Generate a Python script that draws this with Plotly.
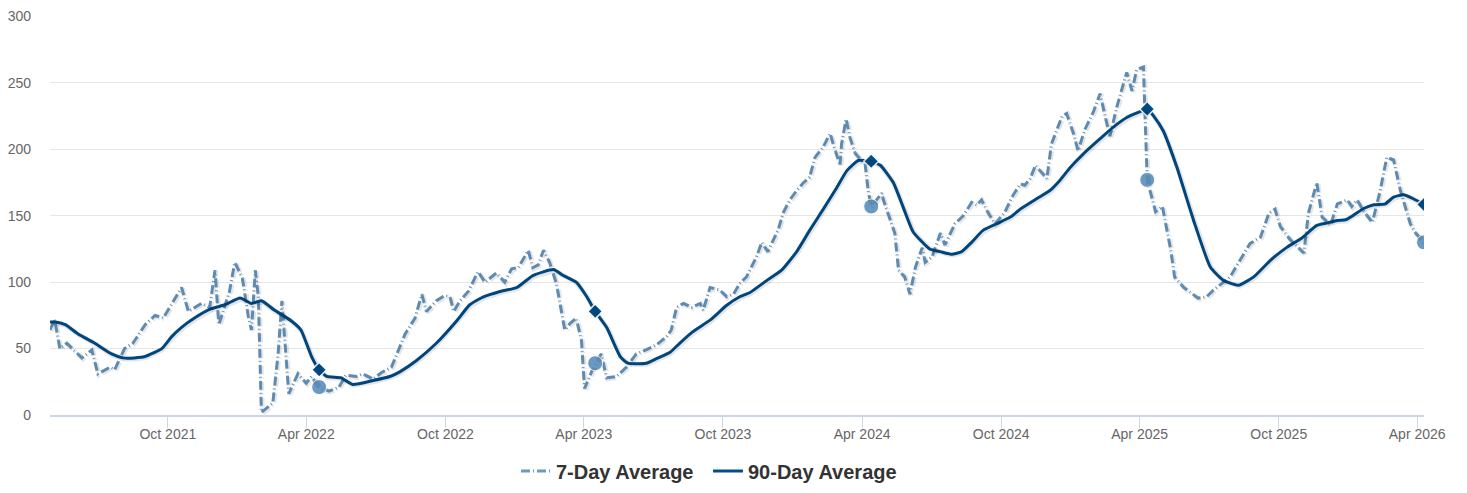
import pandas as pd
import plotly.graph_objects as go

# ---------------- data ----------------
d7_dates = [
    "2021-04-29", "2021-05-05", "2021-05-12", "2021-05-21", "2021-06-10", "2021-06-23", "2021-07-01",
    "2021-07-17", "2021-07-23", "2021-08-05", "2021-08-16", "2021-09-01", "2021-09-14", "2021-09-25",
    "2021-10-19", "2021-10-28", "2021-11-14", "2021-11-25", "2021-12-02", "2021-12-07", "2021-12-21",
    "2021-12-28", "2022-01-07", "2022-01-15", "2022-01-19", "2022-01-24", "2022-01-28", "2022-02-01",
    "2022-02-16", "2022-02-23", "2022-02-28", "2022-03-05", "2022-03-09", "2022-03-21", "2022-04-01",
    "2022-04-08", "2022-04-18", "2022-05-01", "2022-05-14", "2022-05-23", "2022-06-06", "2022-06-14",
    "2022-06-28", "2022-07-09", "2022-07-22", "2022-08-09", "2022-08-22", "2022-08-31", "2022-09-06",
    "2022-09-19", "2022-09-30", "2022-10-07", "2022-10-12", "2022-10-20", "2022-10-31", "2022-11-13",
    "2022-11-22", "2022-12-07", "2022-12-18", "2022-12-27", "2023-01-05", "2023-01-18", "2023-01-24",
    "2023-01-31", "2023-02-07", "2023-02-15", "2023-02-24", "2023-03-07", "2023-03-14", "2023-03-22",
    "2023-03-29", "2023-04-02", "2023-04-16", "2023-04-24", "2023-05-01", "2023-05-14", "2023-05-27",
    "2023-06-09", "2023-06-22", "2023-07-06", "2023-07-19", "2023-07-25", "2023-08-01", "2023-08-10",
    "2023-08-21", "2023-09-01", "2023-09-05", "2023-09-14", "2023-09-27", "2023-10-06", "2023-10-15",
    "2023-10-23", "2023-11-01", "2023-11-14", "2023-11-21", "2023-11-29", "2023-12-13", "2023-12-19",
    "2023-12-28", "2024-01-06", "2024-01-15", "2024-01-23", "2024-01-30", "2024-02-10", "2024-02-19",
    "2024-02-23", "2024-03-03", "2024-03-05", "2024-03-11", "2024-03-16", "2024-03-23", "2024-03-29",
    "2024-04-05", "2024-04-09", "2024-04-13", "2024-04-27", "2024-04-29", "2024-05-08", "2024-05-14",
    "2024-05-19", "2024-05-27", "2024-06-03", "2024-06-10", "2024-06-19", "2024-06-23", "2024-07-02",
    "2024-07-13", "2024-07-19", "2024-08-01", "2024-08-12", "2024-08-23", "2024-08-30", "2024-09-05",
    "2024-09-14", "2024-09-23", "2024-10-06", "2024-10-15", "2024-10-26", "2024-11-01", "2024-11-08",
    "2024-11-15", "2024-11-21", "2024-11-30", "2024-12-06", "2024-12-11", "2024-12-20", "2024-12-26",
    "2025-01-04", "2025-01-10", "2025-01-19", "2025-01-30", "2025-02-08", "2025-02-15", "2025-02-21",
    "2025-03-02", "2025-03-15", "2025-03-22", "2025-03-28", "2025-04-06", "2025-04-11", "2025-04-22",
    "2025-05-01", "2025-05-12", "2025-05-17", "2025-05-29", "2025-06-17", "2025-06-28", "2025-07-07",
    "2025-07-29", "2025-08-11", "2025-08-24", "2025-09-07", "2025-09-13", "2025-09-18", "2025-09-26",
    "2025-10-03", "2025-10-16", "2025-11-03", "2025-11-09", "2025-11-20", "2025-11-27", "2025-12-08",
    "2025-12-17", "2025-12-30", "2026-01-05", "2026-01-12", "2026-01-20", "2026-02-01", "2026-02-11",
    "2026-02-20", "2026-03-01", "2026-03-10", "2026-03-23", "2026-03-30", "2026-04-10",
]
d7_values = [
    64, 72, 50, 54, 43, 49, 31,
    36, 34, 50, 54, 68, 75, 73,
    96, 78, 84, 81, 109, 68, 93,
    115, 103, 73, 64, 109, 89, 2,
    9, 46, 86, 49, 16, 31, 24,
    29, 21, 18, 21, 30, 29, 31,
    27, 32, 36, 61, 73, 91, 78,
    86, 90, 89, 78, 86, 93, 108,
    100, 107, 100, 110, 111, 124, 111,
    113, 124, 115, 99, 64, 69, 73,
    56, 20, 39, 46, 28, 29, 36,
    46, 49, 53, 59, 64, 81, 84,
    81, 84, 79, 96, 94, 89, 91,
    99, 104, 119, 130, 123, 140, 152,
    162, 169, 175, 179, 194, 202, 212,
    204, 188, 204, 223, 209, 197, 193,
    189, 169, 157, 167, 162, 147, 137,
    109, 104, 91, 111, 126, 115, 119,
    137, 128, 144, 150, 160, 158, 162,
    152, 144, 153, 164, 174, 173, 178,
    188, 184, 178, 204, 212, 225, 227,
    212, 199, 215, 228, 242, 224, 210,
    232, 258, 244, 260, 262, 177, 153,
    157, 124, 104, 96, 88, 89, 94,
    104, 117, 129, 134, 143, 152, 155,
    142, 132, 122, 152, 175, 149, 143,
    159, 162, 157, 162, 154, 145, 168,
    194, 192, 169, 144, 137, 130,
]

d90_dates = [
    "2021-04-29", "2021-05-05", "2021-05-19", "2021-06-05", "2021-06-27", "2021-07-19", "2021-08-03",
    "2021-08-18", "2021-09-01", "2021-09-23", "2021-10-06", "2021-10-19", "2021-11-05", "2021-11-27",
    "2021-12-15", "2022-01-04", "2022-01-19", "2022-02-01", "2022-02-18", "2022-03-12", "2022-03-25",
    "2022-04-08", "2022-04-18", "2022-04-28", "2022-05-17", "2022-06-01", "2022-06-28", "2022-07-20",
    "2022-08-02", "2022-08-24", "2022-09-19", "2022-10-16", "2022-11-02", "2022-11-20", "2022-12-12",
    "2023-01-03", "2023-01-24", "2023-02-20", "2023-03-05", "2023-03-22", "2023-04-05", "2023-04-16",
    "2023-05-01", "2023-05-19", "2023-05-29", "2023-06-22", "2023-07-06", "2023-07-23", "2023-08-05",
    "2023-08-22", "2023-09-14", "2023-10-06", "2023-10-23", "2023-11-05", "2023-11-27", "2023-12-17",
    "2024-01-06", "2024-01-23", "2024-02-10", "2024-02-28", "2024-03-12", "2024-03-27", "2024-04-13",
    "2024-04-25", "2024-05-12", "2024-05-25", "2024-06-07", "2024-06-29", "2024-07-13", "2024-07-28",
    "2024-08-10", "2024-08-23", "2024-09-07", "2024-09-25", "2024-10-13", "2024-10-26", "2024-11-17",
    "2024-12-04", "2024-12-17", "2024-12-31", "2025-01-17", "2025-02-08", "2025-02-25", "2025-03-15",
    "2025-03-31", "2025-04-11", "2025-04-19", "2025-05-02", "2025-05-20", "2025-06-11", "2025-07-03",
    "2025-07-20", "2025-08-09", "2025-08-29", "2025-09-20", "2025-10-12", "2025-10-30", "2025-11-20",
    "2025-12-03", "2025-12-17", "2025-12-28", "2026-01-07", "2026-01-20", "2026-02-03", "2026-02-18",
    "2026-03-01", "2026-03-14", "2026-03-27", "2026-04-10",
]
d90_values = [
    70, 70, 68, 61, 54, 46, 43,
    43, 44, 50, 59, 66, 73, 80,
    83, 88, 84, 86, 79, 71, 64,
    44, 34, 29, 28, 23, 26, 29,
    32.5, 41, 54, 71, 83, 89, 93,
    96, 105, 109.5, 105, 100, 89, 78,
    66, 44, 39, 39, 42.6, 47, 54,
    62.6, 71.4, 82.6, 89, 92, 101, 109,
    123, 139, 155, 171.5, 184, 191.6, 191,
    188, 175, 156.5, 138, 125, 123, 121,
    123, 130, 139, 144, 149, 155, 163,
    169, 176.6, 186.5, 196.6, 208, 216.6, 224,
    228, 230.4, 225.4, 214, 186.5, 146.5, 111.4,
    101.4, 97.7, 104, 116.5, 126.4, 132.7, 142.7,
    144.5, 146.5, 147, 150.3, 155.3, 158.3, 159,
    164, 165.8, 162.8, 158.5,
]

# highlighted points (same period each year)
mark_dates = ["2022-04-18", "2023-04-16", "2024-04-13", "2025-04-11", "2026-04-10"]
mark_7d = [21, 39, 157, 177, 130]
mark_90d = [34, 78, 191, 230.4, 158.5]

series_names = ["7-Day Average", "90-Day Average"]
y_ticks = [0, 50, 100, 150, 200, 250, 300]

# ---------------- styling ----------------
LIGHT = "#6a9ac4"
DARK = "#004f8c"
FONT = "Liberation Sans, Arial, sans-serif"
# the page body has an 8px margin, so the figure is sized to fit the window
W, H = 1459, 485
M_L, M_R, M_T, M_B = 42, 43, 8, 78
DASH7 = "9px,3px,1px,3px"
Y_TOP = y_ticks[-1] + 0.4  # keeps the top grid line just inside the plot area

x0 = pd.Timestamp(d7_dates[0])
x1 = pd.Timestamp(d7_dates[-1])
plot_w = W - M_L - M_R
plot_h = H - M_T - M_B
day_per_px = (x1 - x0) / plot_w
val_per_px = (Y_TOP - y_ticks[0]) / plot_h

fig = go.Figure()

# soft drop shadows drawn on slightly offset overlay axes
for xs, ys, dash in [(d7_dates, d7_values, DASH7), (d90_dates, d90_values, "solid")]:
    fig.add_trace(go.Scatter(
        x=xs, y=ys, mode="lines", xaxis="x2", yaxis="y2",
        line=dict(color="rgba(0,0,0,0.10)", width=5, dash=dash),
        showlegend=False, hoverinfo="skip",
    ))

fig.add_trace(go.Scatter(
    x=d7_dates, y=d7_values, mode="lines", name=series_names[0], legend="legend",
    line=dict(color=LIGHT, width=3, dash=DASH7),
))
fig.add_trace(go.Scatter(
    x=d90_dates, y=d90_values, mode="lines", name=series_names[1], legend="legend2",
    line=dict(color=DARK, width=3, shape="spline", smoothing=0.5),
))
fig.add_trace(go.Scatter(
    x=mark_dates, y=mark_7d, mode="markers", showlegend=False,
    marker=dict(symbol="circle", size=15, color=LIGHT, line=dict(color="white", width=1)),
))
fig.add_trace(go.Scatter(
    x=mark_dates, y=mark_90d, mode="markers", showlegend=False,
    marker=dict(symbol="diamond", size=11.5, color=DARK, line=dict(color="white", width=1.5)),
))

legend_font = dict(family=FONT, size=20, color="#333333", weight="bold")
fig.update_layout(
    width=W, height=H,
    margin=dict(l=M_L, r=M_R, t=M_T, b=M_B, pad=0, autoexpand=False),
    paper_bgcolor="white", plot_bgcolor="white",
    font=dict(family=FONT, size=14, color="#666666"),
    xaxis=dict(
        type="date", range=[x0, x1], automargin=False,
        tick0="2021-10-01", dtick="M6", tickformat="%b %Y",
        ticks="outside", ticklen=11, tickcolor="#ccd6eb", tickwidth=1,
        showline=True, linecolor="#ccd6eb", linewidth=1.5,
        showgrid=False, zeroline=False, ticklabeloverflow="allow",
        ticklabelstandoff=-6,
        tickfont=dict(family=FONT, size=14, color="#666666"),
    ),
    yaxis=dict(
        range=[y_ticks[0], Y_TOP], tickvals=y_ticks, automargin=False,
        showgrid=True, gridcolor="#e6e6e6", gridwidth=1,
        zeroline=False, showline=False, ticks="",
        ticklabelstandoff=18, ticklabeloverflow="allow",
        tickfont=dict(family=FONT, size=14, color="#666666"),
    ),
    xaxis2=dict(
        type="date", overlaying="x", visible=False,
        range=[x0 - day_per_px, x1 - day_per_px],
    ),
    yaxis2=dict(
        overlaying="y", visible=False,
        range=[y_ticks[0] + val_per_px, Y_TOP + val_per_px],
    ),
    legend=dict(
        orientation="h", xref="container", yref="container",
        x=508 / W, xanchor="left", y=22 / H, yanchor="middle",
        font=legend_font, bgcolor="rgba(0,0,0,0)",
    ),
    legend2=dict(
        orientation="h", xref="container", yref="container",
        x=700 / W, xanchor="left", y=22 / H, yanchor="middle",
        font=legend_font, bgcolor="rgba(0,0,0,0)",
    ),
    showlegend=True,
)

fig.write_html("out.html")
